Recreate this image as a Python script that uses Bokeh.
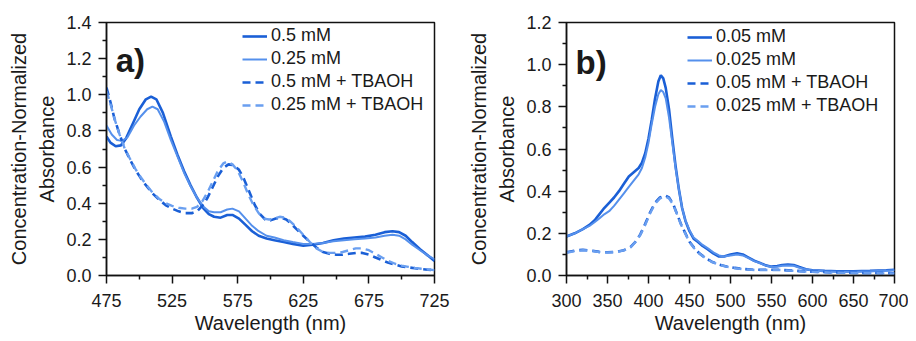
from bokeh.plotting import figure
from bokeh.layouts import row
from bokeh.models import Range1d, FixedTicker, Legend, LegendItem, Label, NumeralTickFormatter
from bokeh.embed import file_html
from bokeh.resources import INLINE

# ---------------- Panel a) data ----------------
a_x_dark = [475, 478, 482, 486, 490, 495, 500, 505, 509, 513, 518, 524, 529, 534, 539, 544, 549, 553, 557, 562,
            567, 571, 576, 581, 586, 591, 597, 603, 610, 617, 625, 632, 640, 648, 656, 664, 672, 680, 687, 693,
            698, 703, 708, 714, 720, 725]
a_y_dark = [0.77, 0.735, 0.715, 0.72, 0.76, 0.84, 0.92, 0.975, 0.99, 0.975, 0.90, 0.77, 0.67, 0.58, 0.50, 0.43,
            0.37, 0.34, 0.325, 0.32, 0.335, 0.335, 0.315, 0.28, 0.245, 0.22, 0.205, 0.195, 0.185, 0.175, 0.165,
            0.17, 0.18, 0.195, 0.205, 0.21, 0.215, 0.225, 0.24, 0.245, 0.24, 0.22, 0.185, 0.145, 0.11, 0.08]

a_x_light = [475, 479, 483, 487, 491, 496, 501, 506, 510, 514, 519, 524, 529, 534, 539, 544, 549, 553, 557, 562,
             567, 571, 576, 581, 586, 591, 597, 603, 610, 617, 625, 632, 640, 648, 656, 664, 672, 680, 687, 693,
             698, 703, 708, 714, 720, 725]
a_y_light = [0.83, 0.78, 0.75, 0.745, 0.765, 0.83, 0.88, 0.92, 0.935, 0.92, 0.85, 0.75, 0.66, 0.57, 0.495, 0.43,
             0.38, 0.355, 0.35, 0.35, 0.365, 0.37, 0.355, 0.315, 0.275, 0.245, 0.22, 0.21, 0.195, 0.185, 0.175,
             0.175, 0.18, 0.19, 0.195, 0.2, 0.205, 0.21, 0.22, 0.225, 0.22, 0.2, 0.17, 0.14, 0.11, 0.09]

a_x_dark_tb = [475, 478, 481, 485, 489, 493, 497, 501, 505, 510, 515, 520, 525, 530, 535, 540, 544, 548, 552, 556,
               560, 564, 568, 572, 576, 580, 584, 588, 592, 596, 600, 604, 608, 612, 616, 620, 625, 630, 635, 640,
               645, 650, 655, 660, 665, 670, 675, 680, 685, 690, 695, 700, 705, 710, 715, 720, 725]
a_y_dark_tb = [1.04, 0.96, 0.87, 0.78, 0.70, 0.64, 0.585, 0.54, 0.50, 0.455, 0.42, 0.39, 0.37, 0.355, 0.345, 0.345,
               0.355, 0.385, 0.43, 0.49, 0.55, 0.595, 0.615, 0.61, 0.585, 0.53, 0.46, 0.39, 0.34, 0.31, 0.305,
               0.315, 0.32, 0.31, 0.285, 0.255, 0.22, 0.185, 0.155, 0.13, 0.12, 0.115, 0.115, 0.12, 0.125, 0.125,
               0.115, 0.1, 0.085, 0.07, 0.06, 0.05, 0.045, 0.04, 0.035, 0.032, 0.03]

a_x_light_tb = [475, 478, 481, 485, 489, 493, 497, 501, 505, 510, 515, 520, 525, 530, 535, 540, 544, 548, 552, 556,
                560, 564, 567, 571, 575, 579, 583, 587, 591, 595, 599, 603, 607, 611, 615, 620, 625, 630, 635, 640,
                645, 650, 655, 660, 665, 670, 675, 680, 685, 690, 695, 700, 705, 710, 715, 720, 725]
a_y_light_tb = [1.02, 0.95, 0.87, 0.78, 0.70, 0.645, 0.59, 0.545, 0.505, 0.46, 0.425, 0.40, 0.385, 0.375, 0.37,
                0.37, 0.38, 0.41, 0.46, 0.52, 0.58, 0.62, 0.63, 0.615, 0.58, 0.52, 0.45, 0.39, 0.345, 0.315, 0.31,
                0.315, 0.325, 0.32, 0.30, 0.265, 0.225, 0.185, 0.15, 0.13, 0.125, 0.125, 0.13, 0.14, 0.15, 0.15,
                0.14, 0.12, 0.10, 0.08, 0.065, 0.055, 0.048, 0.042, 0.037, 0.033, 0.03]

a_labels = ["0.5 mM", "0.25 mM", "0.5 mM + TBAOH", "0.25 mM + TBAOH"]
a_xticks = [475, 525, 575, 625, 675, 725]
a_xminor = [500, 550, 600, 650, 700]
a_yticks = [0.0, 0.2, 0.4, 0.6, 0.8, 1.0, 1.2, 1.4]
a_yminor = [0.1, 0.3, 0.5, 0.7, 0.9, 1.1, 1.3]

# ---------------- Panel b) data ----------------
b_x_dark = [300, 310, 320, 328, 335, 340, 346, 352, 358, 364, 370, 376, 382, 388, 392, 396, 400, 404, 408, 412,
            415, 418, 421, 425, 429, 433, 437, 441, 445, 450, 455, 460, 466, 472, 479, 486, 492, 500, 508, 515,
            522, 529, 536, 543, 550, 557, 563, 570, 577, 584, 592, 600, 615, 630, 650, 670, 690, 700]
b_y_dark = [0.185, 0.2, 0.22, 0.24, 0.265, 0.29, 0.32, 0.345, 0.37, 0.40, 0.435, 0.47, 0.49, 0.51, 0.535, 0.58,
            0.65, 0.74, 0.84, 0.92, 0.95, 0.935, 0.89, 0.79, 0.65, 0.52, 0.41, 0.32, 0.26, 0.21, 0.175, 0.16,
            0.14, 0.125, 0.105, 0.09, 0.09, 0.1, 0.105, 0.1, 0.085, 0.07, 0.06, 0.048, 0.042, 0.045, 0.05, 0.052,
            0.05, 0.04, 0.03, 0.025, 0.022, 0.02, 0.02, 0.022, 0.025, 0.027]

b_x_light = b_x_dark
b_y_light = [0.185, 0.2, 0.22, 0.235, 0.255, 0.27, 0.29, 0.305, 0.33, 0.36, 0.39, 0.42, 0.45, 0.48, 0.51, 0.56,
             0.63, 0.72, 0.80, 0.86, 0.88, 0.87, 0.84, 0.75, 0.63, 0.51, 0.41, 0.32, 0.26, 0.215, 0.18, 0.165,
             0.145, 0.13, 0.11, 0.095, 0.09, 0.095, 0.1, 0.095, 0.082, 0.068, 0.058, 0.047, 0.04, 0.042, 0.046,
             0.048, 0.046, 0.037, 0.029, 0.024, 0.02, 0.018, 0.018, 0.02, 0.023, 0.025]

b_x_dark_tb = [300, 310, 320, 330, 340, 350, 360, 370, 378, 384, 390, 396, 402, 408, 414, 420, 425, 430, 435, 440,
               445, 450, 456, 462, 470, 478, 486, 495, 505, 515, 530, 550, 560, 580, 600, 630, 660, 700]
b_y_dark_tb = [0.11, 0.118, 0.122, 0.118, 0.112, 0.11, 0.112, 0.12, 0.135, 0.16, 0.195, 0.245, 0.30, 0.345, 0.37,
               0.38, 0.37, 0.34, 0.29, 0.24, 0.2, 0.16, 0.13, 0.105, 0.082, 0.064, 0.052, 0.043, 0.036, 0.031,
               0.027, 0.027, 0.027, 0.022, 0.018, 0.014, 0.012, 0.011]
b_x_light_tb = b_x_dark_tb
b_y_light_tb = [0.108, 0.116, 0.12, 0.117, 0.111, 0.109, 0.111, 0.119, 0.133, 0.158, 0.192, 0.24, 0.295, 0.34,
                0.366, 0.375, 0.366, 0.337, 0.288, 0.238, 0.198, 0.158, 0.128, 0.104, 0.081, 0.063, 0.051, 0.042,
                0.035, 0.03, 0.026, 0.026, 0.026, 0.021, 0.017, 0.013, 0.011, 0.010]

b_labels = ["0.05 mM", "0.025 mM", "0.05 mM + TBAOH", "0.025 mM + TBAOH"]
b_xticks = [300, 350, 400, 450, 500, 550, 600, 650, 700]
b_xminor = [325, 375, 425, 475, 525, 575, 625, 675]
b_yticks = [0.0, 0.2, 0.4, 0.6, 0.8, 1.0, 1.2]
b_yminor = [0.1, 0.3, 0.5, 0.7, 0.9, 1.1]

DARK = "#1a5fd6"
LIGHT = "#5590ec"
LIGHT_D = "#6a9ff0"
FONT = "Liberation Sans"
HEIGHT = 337


def make_panel(width, bl, br, bt, bb, xr, yr, xt, xm, yt, ym, series, labels, leg_loc, tag, tag_pos):
    p = figure(width=width, height=HEIGHT, output_backend="svg", toolbar_location=None,
               x_range=Range1d(*xr), y_range=Range1d(*yr),
               min_border_left=bl, min_border_right=br, min_border_top=bt, min_border_bottom=bb)
    p.grid.visible = False
    p.outline_line_color = "#111111"
    p.outline_line_width = 1.5
    p.background_fill_color = "white"
    p.border_fill_color = "white"

    p.xaxis.ticker = FixedTicker(ticks=xt, minor_ticks=xm)
    p.yaxis.ticker = FixedTicker(ticks=yt, minor_ticks=ym)
    p.yaxis.formatter = NumeralTickFormatter(format="0.0")
    for ax in (p.xaxis, p.yaxis):
        ax.axis_line_color = "#111111"
        ax.axis_line_width = 1.5
        ax.major_tick_line_color = "#111111"
        ax.minor_tick_line_color = "#111111"
        ax.major_tick_line_width = 1.5
        ax.minor_tick_line_width = 1.5
        ax.major_tick_out = 8
        ax.major_tick_in = 0
        ax.minor_tick_out = 4
        ax.minor_tick_in = 0
        ax.major_label_text_font = FONT
        ax.major_label_text_font_size = "18px"
        ax.major_label_text_color = "#1a1a1a"
        ax.axis_label_text_font = FONT
        ax.axis_label_text_font_size = "20px"
        ax.axis_label_text_font_style = "normal"
        ax.axis_label_text_color = "#1a1a1a"
    p.xaxis.major_label_standoff = 10
    p.yaxis.major_label_standoff = 7
    p.xaxis.axis_label = "Wavelength (nm)"
    p.xaxis.axis_label_standoff = 2
    p.yaxis.axis_label = "Concentration-Normalized\nAbsorbance"
    p.yaxis.axis_label_standoff = 5
    p.yaxis.axis_label_text_line_height = 1.3

    styles = [(DARK, 2.6, "solid"), (LIGHT, 2.0, "solid"), (DARK, 2.6, "8 5"), (LIGHT_D, 2.4, "8 5")]
    items = []
    for (xs, ys), (c, w, d), lab in zip(series, styles, labels):
        r = p.line(xs, ys, line_color=c, line_width=w, line_dash=d)
        items.append(LegendItem(label=lab, renderers=[r]))
    leg = Legend(items=items, location=leg_loc, border_line_alpha=0, background_fill_alpha=0,
                 glyph_width=25, glyph_height=20, label_height=20, label_standoff=4, spacing=2,
                 padding=0, margin=0, label_text_font=FONT, label_text_font_size="18px",
                 label_text_color="#1a1a1a")
    p.add_layout(leg, "center")
    p.add_layout(Label(x=tag_pos[0], y=tag_pos[1], text=tag, text_font=FONT, text_font_size="33px",
                       text_font_style="bold", text_color="#1a1a1a", text_baseline="alphabetic"))
    return p


pa = make_panel(456, 106, 22, 22, HEIGHT - 276, (475, 725), (0, 1.4), a_xticks, a_xminor, a_yticks, a_yminor,
                [(a_x_dark, a_y_dark), (a_x_light, a_y_light), (a_x_dark_tb, a_y_dark_tb),
                 (a_x_light_tb, a_y_light_tb)], a_labels, (136, 160), "a)", (482, 1.19))
pb = make_panel(452, 110, 14, 20, HEIGHT - 275, (300, 700), (0, 1.2), b_xticks, b_xminor, b_yticks, b_yminor,
                [(b_x_dark, b_y_dark), (b_x_light, b_y_light), (b_x_dark_tb, b_y_dark_tb),
                 (b_x_light_tb, b_y_light_tb)], b_labels, (121, 159), "b)", (311, 1.012))

layout = row(pa, pb, spacing=0)
open("out.html", "w").write(file_html(layout, INLINE))
